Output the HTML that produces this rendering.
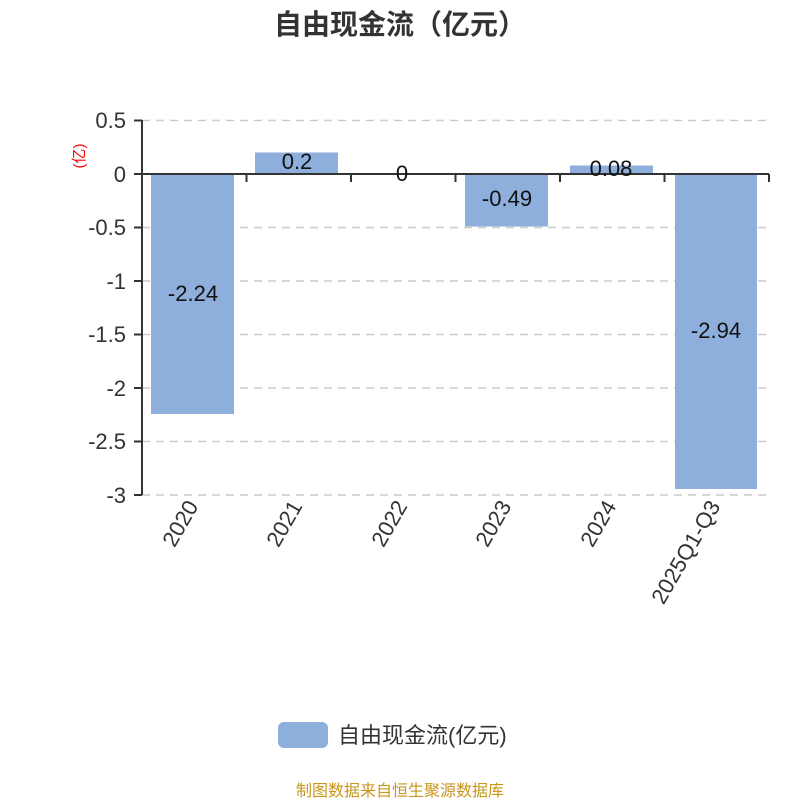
<!DOCTYPE html>
<html><head><meta charset="utf-8"><style>body{margin:0;background:#fff}svg{display:block}text{font-family:"Liberation Sans","Noto Sans CJK SC",sans-serif}</style></head><body>
<svg width="800" height="800" viewBox="0 0 800 800">
<text x="400" y="34" text-anchor="middle" font-size="28" font-weight="bold" fill="#333">自由现金流（亿元）</text>
<g stroke="#ccc" stroke-width="1.5" stroke-dasharray="8,6">
<line x1="142" y1="120.5" x2="769" y2="120.5"/><line x1="142" y1="227.5" x2="769" y2="227.5"/><line x1="142" y1="281" x2="769" y2="281"/><line x1="142" y1="334.5" x2="769" y2="334.5"/><line x1="142" y1="388" x2="769" y2="388"/><line x1="142" y1="441.5" x2="769" y2="441.5"/><line x1="142" y1="495" x2="769" y2="495"/>
</g>
<g fill="#8eaedb">
<rect x="151" y="174" width="83" height="240"/>
<rect x="255" y="152.5" width="83" height="21.5"/>
<rect x="465" y="174" width="83" height="52.5"/>
<rect x="570" y="165.5" width="83" height="8.5"/>
<rect x="675" y="174" width="82" height="315"/>
</g>
<g stroke="#333" stroke-width="2" fill="none">
<line x1="142" y1="120" x2="142" y2="495"/>
<line x1="142" y1="174" x2="769" y2="174"/>
<path d="M134 120.5H142M134 174H142M134 227.5H142M134 281H142M134 334.5H142M134 388H142M134 441.5H142M134 495H142"/>
<path d="M246.5 174V182M351 174V182M455.5 174V182M560 174V182M664.5 174V182M769 174V182"/>
</g>
<g font-size="22" fill="#333" text-anchor="end">
<text x="126" y="128">0.5</text><text x="126" y="182">0</text><text x="126" y="235">-0.5</text><text x="126" y="289">-1</text><text x="126" y="342">-1.5</text><text x="126" y="396">-2</text><text x="126" y="449">-2.5</text><text x="126" y="503">-3</text>
</g>
<text transform="translate(84,156) rotate(-90)" text-anchor="middle" font-size="15" fill="#f00">(亿)</text>
<g font-size="22" fill="#111" text-anchor="middle">
<text x="193" y="301">-2.24</text><text x="297" y="169">0.2</text><text x="402" y="181">0</text><text x="507" y="206">-0.49</text><text x="611" y="176">0.08</text><text x="716" y="338">-2.94</text>
</g>
<g font-size="22" fill="#333" text-anchor="end">
<text transform="translate(199,506) rotate(-60)">2020</text>
<text transform="translate(303,506) rotate(-60)">2021</text>
<text transform="translate(408,506) rotate(-60)">2022</text>
<text transform="translate(512,506) rotate(-60)">2023</text>
<text transform="translate(617,506) rotate(-60)">2024</text>
<text transform="translate(721,506) rotate(-60)">2025Q1-Q3</text>
</g>
<rect x="278" y="722" width="50" height="26" rx="6" fill="#8eaedb"/>
<text x="338" y="743" font-size="22" fill="#333">自由现金流(亿元)</text>
<text x="400" y="796" text-anchor="middle" font-size="16" fill="#c8961e">制图数据来自恒生聚源数据库</text>
</svg>
</body></html>
